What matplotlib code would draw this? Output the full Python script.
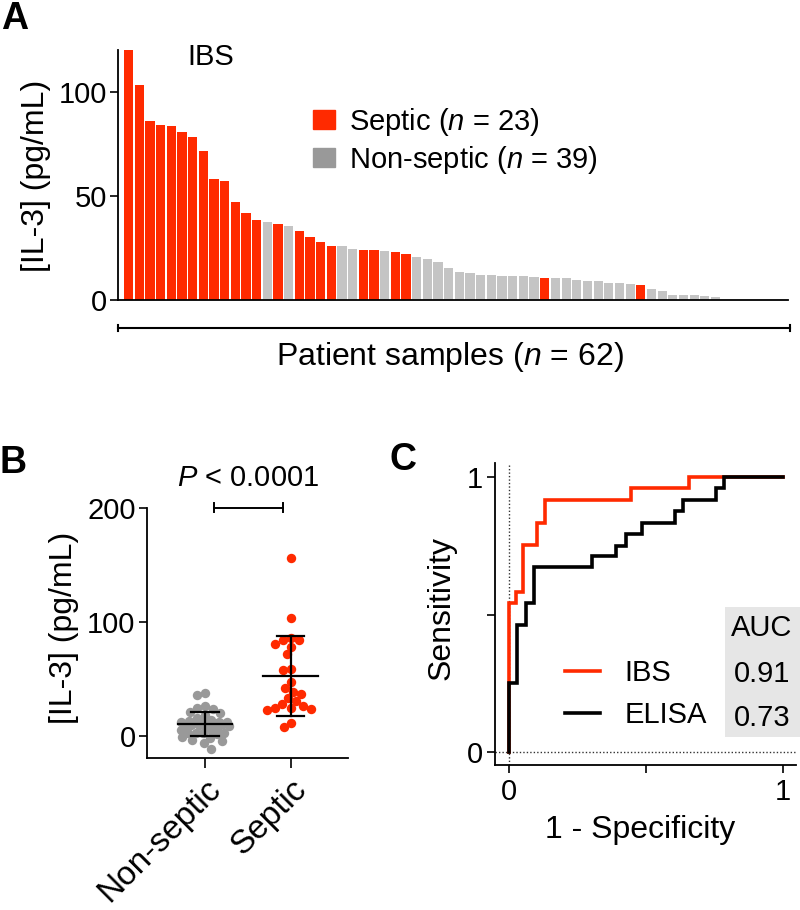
import numpy as np
import matplotlib
matplotlib.use("Agg")
import matplotlib.pyplot as plt
from matplotlib.patches import Patch, Rectangle

plt.rcParams['font.family'] = ['Liberation Sans', 'DejaVu Sans']
plt.rcParams['mathtext.fontset'] = 'custom'
plt.rcParams['mathtext.rm'] = 'Liberation Sans'
plt.rcParams['mathtext.it'] = 'Liberation Sans:italic'

# ---------------- data ----------------
# Panel A: IL-3 per patient sample (pg/mL), sorted descending
il3 = [156, 103.4, 86, 83.8, 83.5, 80.4, 78, 71.5, 58, 57.2, 47, 41.8, 38.5,
       37.2, 36.4, 35.7, 33, 30.1, 27.9, 26.1, 25.8, 24.4, 24, 24, 23.4, 23.2,
       22.3, 20.7, 19.5, 18.4, 15.5, 13.6, 13, 11.9, 11.8, 11.7, 11.7, 11.4,
       11.1, 10.8, 10.7, 10.5, 9.5, 9.2, 9.0, 8.0, 8.0, 7.8, 7.2, 5.1, 4.5,
       2.4, 2.4, 2.4, 1.9, 1.4, -1.0, -2.0, -4.0, -4.5, -7.0, -11.5]
septic = [1, 1, 1, 1, 1, 1, 1, 1, 1, 1, 1, 1, 1,
          0, 1, 0, 1, 1, 1, 1, 0, 0, 1, 1, 0, 1,
          1, 0, 0, 0, 0, 0, 0, 0, 0, 0, 0, 0,
          0, 1, 0, 0, 0, 0, 0, 0, 0, 0, 1, 0, 0,
          0, 0, 0, 0, 0, 0, 0, 0, 0, 0, 0]
groups_b = ["Non-septic", "Septic"]

# Panel C: ROC curves (1 - specificity, sensitivity) step vertices
ibs_fpr = [0, 0, 0.026, 0.050, 0.104, 0.130, 0.445, 0.659, 1.0]
ibs_tpr = [0, 0.542, 0.584, 0.752, 0.835, 0.918, 0.960, 1.0, 1.0]
elisa_fpr = [0, 0, 0.028, 0.061, 0.091, 0.302, 0.393, 0.426, 0.485, 0.607,
             0.637, 0.756, 0.786, 1.0]
elisa_tpr = [0, 0.251, 0.461, 0.544, 0.672, 0.712, 0.750, 0.793, 0.835,
             0.879, 0.918, 0.960, 1.0, 1.0]
auc_labels = ["IBS", "ELISA"]
auc_values = ["0.91", "0.73"]

RED = '#FF2A00'
GREY_BAR = '#C4C4C4'
GREY_DOT = '#999999'

fig = plt.figure(figsize=(8, 9.1), dpi=100)
W, H = 800, 910


def axes_px(l, t, r, b):
    return fig.add_axes([l / W, 1 - b / H, (r - l) / W, (b - t) / H])


# ---------------- Panel A ----------------
axA = axes_px(118, 50, 788, 300)
vals = np.array(il3)
sep = np.array(septic, dtype=bool)
x = np.arange(len(vals))
axA.bar(x, vals, width=0.86, color=np.where(sep, RED, GREY_BAR), linewidth=0)
axA.set_xlim(-1.0, 61.8)
axA.set_ylim(0, 120)
axA.set_yticks([0, 50, 100])
axA.set_xticks([])
for s in ['top', 'right']:
    axA.spines[s].set_visible(False)
for s in ['left', 'bottom']:
    axA.spines[s].set_linewidth(1.3)
axA.tick_params(axis='y', labelsize=21, length=6, width=1.2, pad=2)
axA.set_ylabel('[IL-3] (pg/mL)', fontsize=23, va='center')
axA.yaxis.set_label_coords(-0.122, 0.496)
axA.text(0.138, 0.972, 'IBS', transform=axA.transAxes, fontsize=21,
         ha='center', va='center')
# bracket under axis
axA.plot([0, 1.003], [-0.112, -0.112], transform=axA.transAxes, color='black',
         lw=1.5, clip_on=False)
for xe in [0, 1.003]:
    axA.plot([xe, xe], [-0.124, -0.100], transform=axA.transAxes,
             color='black', lw=1.5, clip_on=False)
axA.set_xlabel('Patient samples ($\\mathit{n}$ = 62)', fontsize=23, va='center')
axA.xaxis.set_label_coords(0.4955, -0.228)
axA.legend(handles=[Patch(color=RED, label='Septic ($\\mathit{n}$ = 23)'),
                    Patch(color=GREY_DOT, label='Non-septic ($\\mathit{n}$ = 39)')],
           loc='upper left', bbox_to_anchor=(313 / W, 1 - 106 / H),
           bbox_transform=fig.transFigure, frameon=False, fontsize=21,
           handlelength=0.75, handleheight=0.6, handletextpad=0.5,
           labelspacing=0.2, borderpad=0, borderaxespad=0)

# ---------------- Panel B ----------------
axB = axes_px(146.7, 507.7, 348, 758.3)
axB.set_xlim(-0.68, 1.67)
axB.set_ylim(-20, 200)
for s in ['top', 'right']:
    axB.spines[s].set_visible(False)
for s in ['left', 'bottom']:
    axB.spines[s].set_linewidth(1.3)


def swarm_offsets(ax, xc, values, d_px, max_px):
    pts = ax.transData.transform(np.column_stack([np.full(len(values), xc), values]))
    ys = pts[:, 1]
    order = np.argsort(-np.asarray(values))
    grid = np.arange(-max_px, max_px + 0.01, 1.0)
    grid = grid[np.argsort(np.abs(grid), kind='stable')]
    placed = []
    offs = np.zeros(len(values))
    for i in order:
        y = ys[i]
        if not placed:
            offs[i] = 0.0
        else:
            P = np.array(placed)
            dist = np.sqrt((grid[:, None] - P[None, :, 0]) ** 2 +
                           (y - P[None, :, 1]) ** 2).min(axis=1)
            ok = np.where(dist >= d_px)[0]
            offs[i] = grid[ok[0]] if len(ok) else grid[np.argmax(dist)]
        placed.append((offs[i], y))
    px_per_unit = ax.transData.transform((1, 0))[0] - ax.transData.transform((0, 0))[0]
    return offs / px_per_unit


for gi, (mask, col) in enumerate([(~sep, GREY_DOT), (sep, RED)]):
    gv = vals[mask]
    offs = swarm_offsets(axB, gi, gv, 8.0, 24)
    axB.scatter(gi + offs, gv, s=46, color=col, linewidths=0, zorder=2)
    m, sd = gv.mean(), gv.std(ddof=1)
    axB.plot([gi - 0.32, gi + 0.32], [m, m], color='black', lw=1.6, zorder=3)
    axB.plot([gi, gi], [m - sd, m + sd], color='black', lw=1.6, zorder=3)
    for yy in [m - sd, m + sd]:
        axB.plot([gi - 0.16, gi + 0.16], [yy, yy], color='black', lw=1.6, zorder=3)

axB.set_xticks([0, 1])
axB.set_xticklabels(groups_b, rotation=45, ha='right', va='top',
                    rotation_mode='anchor', fontsize=24)
axB.set_yticks([0, 100, 200])
axB.tick_params(axis='y', labelsize=21, length=6, width=1.2, pad=2)
axB.tick_params(axis='x', length=7, width=1.2, pad=4)
axB.set_ylabel('[IL-3] (pg/mL)', fontsize=23, va='center')
axB.yaxis.set_label_coords(-0.411, 0.522)
# significance bracket
axB.plot([0.105, 0.91], [200, 200], color='black', lw=1.4, clip_on=False)
for xe in [0.105, 0.91]:
    axB.plot([xe, xe], [196, 204], color='black', lw=1.4, clip_on=False)
axB.text(0.5, 226, '$\\mathit{P}$ < 0.0001', fontsize=21, ha='center',
         va='center', clip_on=False)

# ---------------- Panel C ----------------
axC = axes_px(495, 463.3, 796, 765)
axC.set_xlim(-0.051, 1.049)
axC.set_ylim(-0.047, 1.051)
for s in ['top', 'right']:
    axC.spines[s].set_visible(False)
for s in ['left', 'bottom']:
    axC.spines[s].set_linewidth(1.3)
axC.axvline(0, color='#333333', lw=1.0, ls=(0, (1, 1.5)), zorder=1)
axC.axhline(0, color='#333333', lw=1.0, ls=(0, (1, 1.5)), zorder=1)
axC.plot(ibs_fpr, ibs_tpr, drawstyle='steps-post', color=RED, lw=2.6,
         label=auc_labels[0], zorder=2, solid_joinstyle='miter')
axC.plot(elisa_fpr, elisa_tpr, drawstyle='steps-post', color='black', lw=2.6,
         label=auc_labels[1], zorder=3, solid_joinstyle='miter')
axC.set_xticks([0, 0.5, 1])
axC.set_xticklabels(['0', '', '1'])
axC.set_yticks([0, 0.5, 1])
axC.set_yticklabels(['0', '', '1'])
axC.tick_params(labelsize=21, length=6, width=1.2, pad=3)
axC.set_ylabel('Sensitivity', fontsize=23, va='center')
axC.yaxis.set_label_coords(-0.178, 0.52)
axC.set_xlabel('1 - Specificity', fontsize=23, va='center')
axC.xaxis.set_label_coords(0.482, -0.215)
# AUC box
axC.add_patch(Rectangle((0.764, 0.093), 0.25, 0.431, transform=axC.transAxes,
                        facecolor='#E6E6E6', edgecolor='none', clip_on=False,
                        zorder=0))
axC.text(0.887, 0.454, 'AUC', transform=axC.transAxes, fontsize=21,
         ha='center', va='center')
for v, yy in zip(auc_values, [0.300, 0.155]):
    axC.text(0.887, yy, v, transform=axC.transAxes, fontsize=21,
             ha='center', va='center')
axC.legend(loc='center left', bbox_to_anchor=(0.232, 0.235), frameon=False,
           fontsize=21, handlelength=1.2, handletextpad=0.85, labelspacing=0.5,
           borderpad=0, borderaxespad=0)

# panel letters
fig.text(15 / W, 1 - 19 / H, 'A', fontsize=27, fontweight='bold', ha='center', va='center')
fig.text(13 / W, 1 - 463 / H, 'B', fontsize=27, fontweight='bold', ha='center', va='center')
fig.text(403 / W, 1 - 460 / H, 'C', fontsize=27, fontweight='bold', ha='center', va='center')

fig.savefig('out.png', dpi=100)
